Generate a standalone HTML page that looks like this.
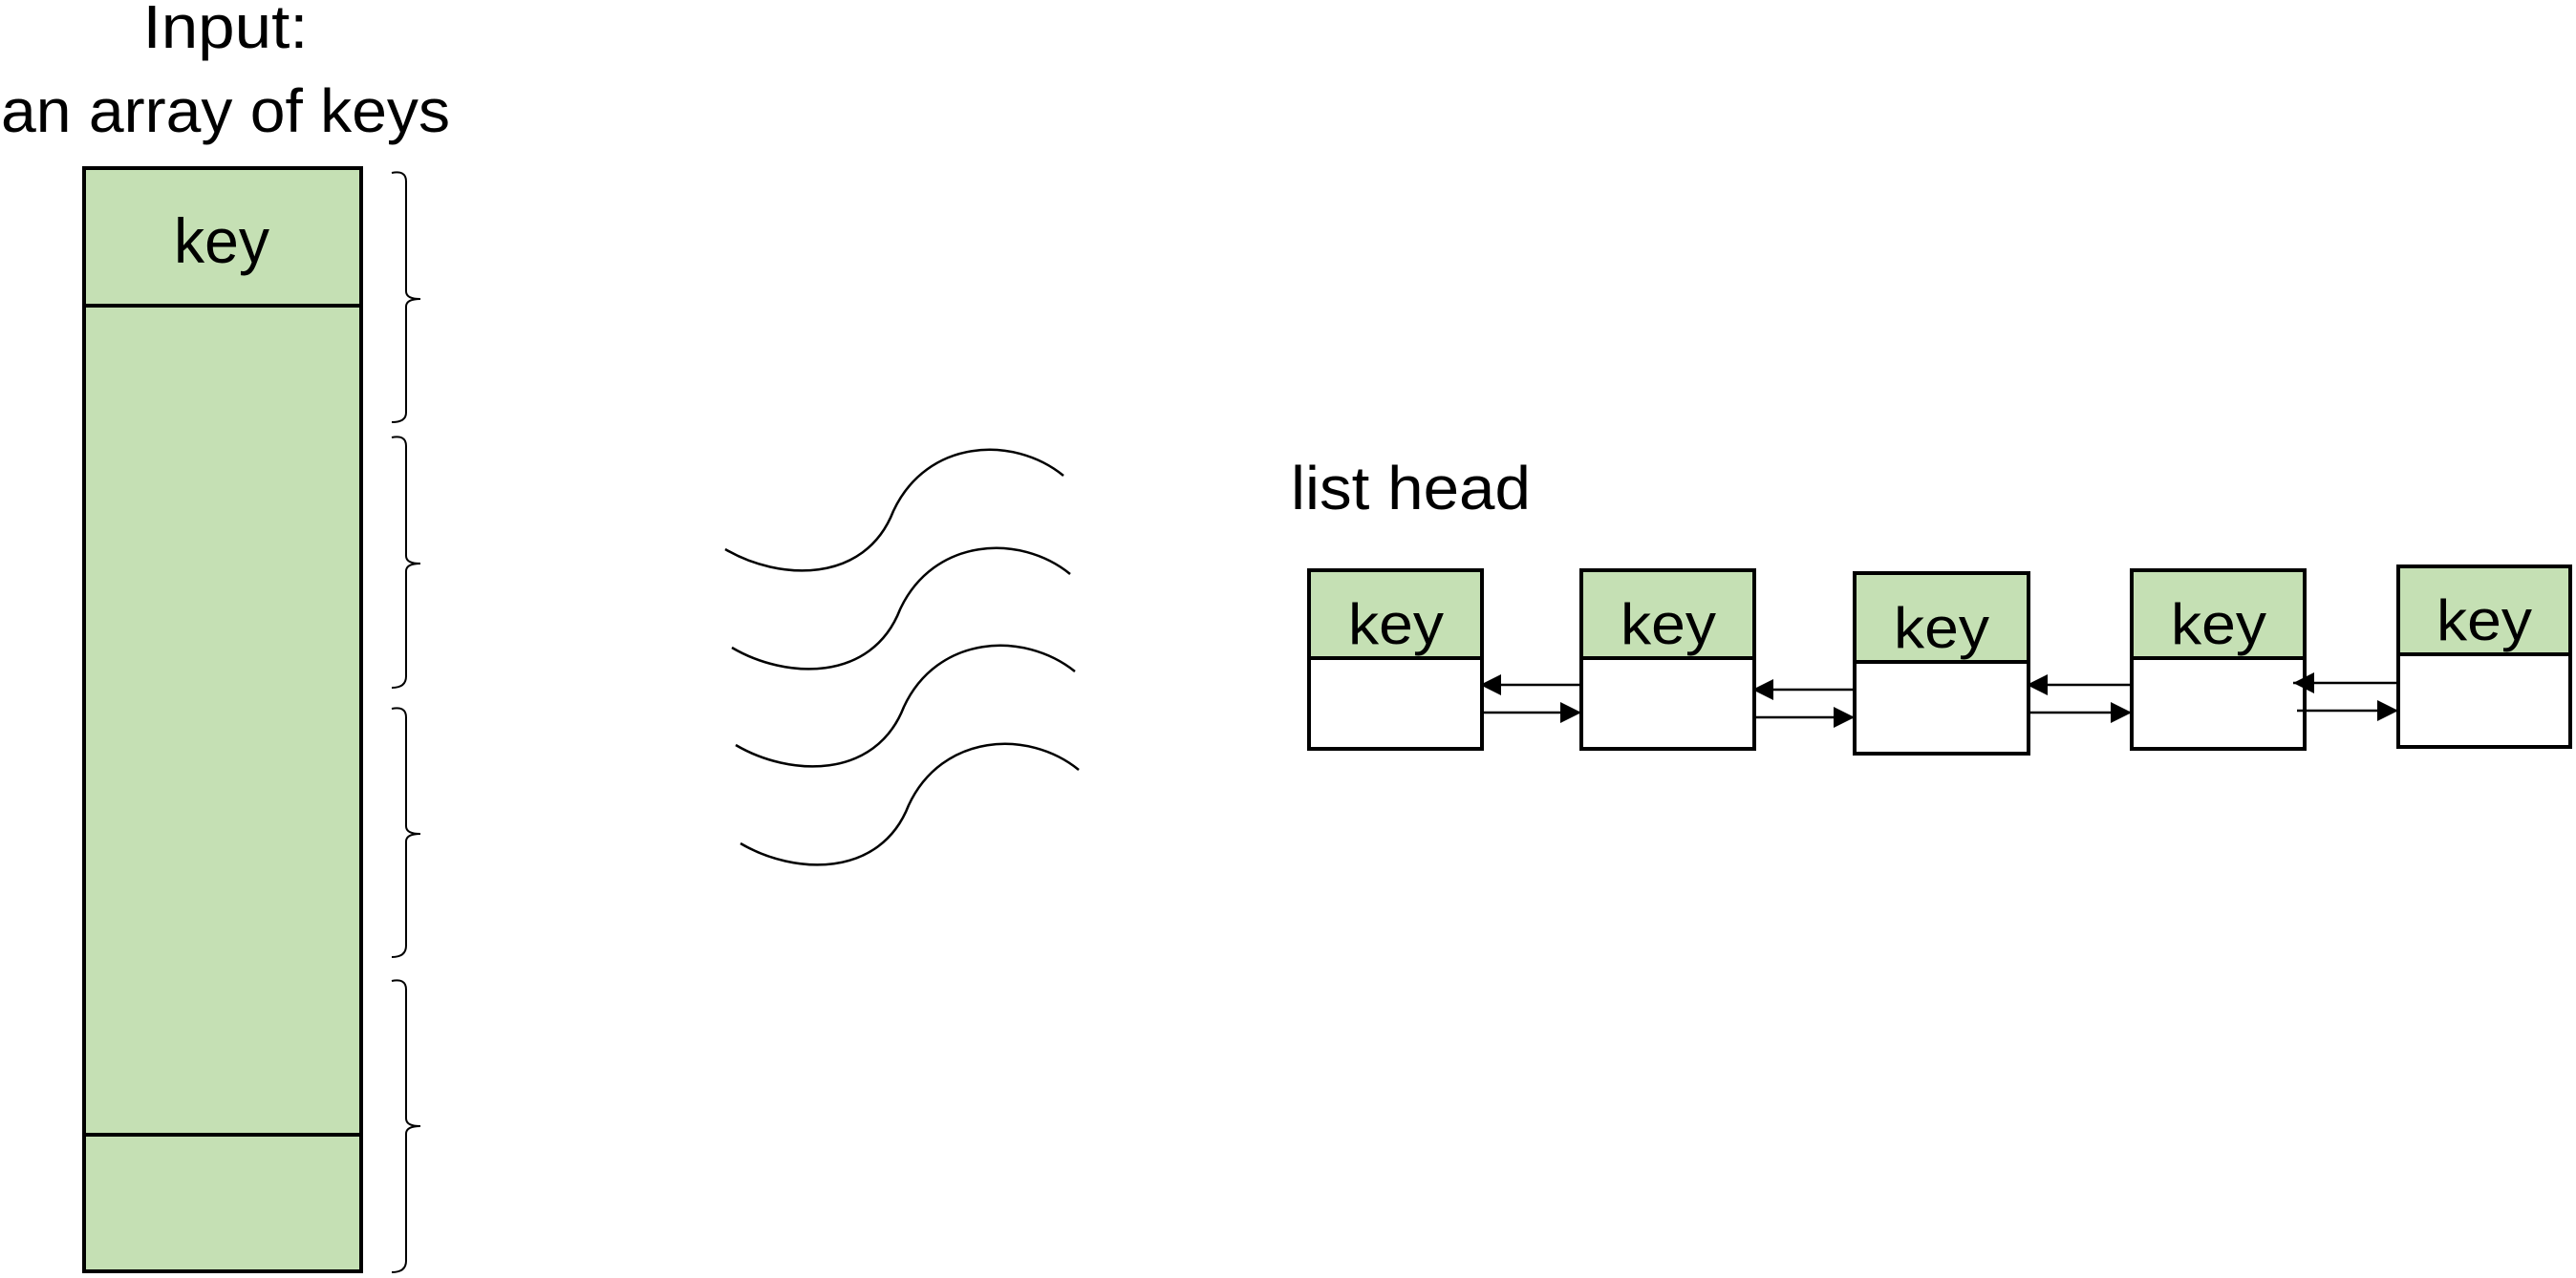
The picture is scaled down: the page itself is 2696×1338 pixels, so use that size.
<!DOCTYPE html>
<html><head><meta charset="utf-8"><style>html,body{margin:0;padding:0;background:#fff}svg{display:block}</style></head>
<body>
<svg width="2696" height="1338" viewBox="0 0 2696 1338" xmlns="http://www.w3.org/2000/svg" font-family="Liberation Sans, sans-serif">
<defs>
<marker id="ah" viewBox="0 0 10 10" refX="10" refY="5" markerWidth="8" markerHeight="8" markerUnits="userSpaceOnUse" orient="auto">
<path d="M0,0 L10,5 L0,10 z" fill="#000"/></marker>
<marker id="a" viewBox="0 0 10 10" refX="10" refY="5" markerWidth="22" markerHeight="22" markerUnits="userSpaceOnUse" orient="auto">
<path d="M0,0 L10,5 L0,10 z" fill="#000"/></marker>
</defs>
<text x="236" y="50" font-size="64" text-anchor="middle" textLength="173" lengthAdjust="spacingAndGlyphs">Input:</text>
<text x="236" y="138" font-size="64" text-anchor="middle" textLength="470" lengthAdjust="spacingAndGlyphs">an array of keys</text>
<rect x="88" y="176" width="290" height="1155" fill="#c5e0b4" stroke="#000" stroke-width="4"/>
<line x1="88" y1="320" x2="378" y2="320" stroke="#000" stroke-width="4"/>
<line x1="88" y1="1188" x2="378" y2="1188" stroke="#000" stroke-width="4"/>
<text x="232" y="275" font-size="66" text-anchor="middle" textLength="100" lengthAdjust="spacingAndGlyphs">key</text>
<g fill="none" stroke="#000" stroke-width="2">
<path d="M410,181 Q425,178 425,190 L425,305 Q425,313 440,313 Q425,313 425,321 L425,432 Q425,442 410,442"/>
<path d="M410,458 Q425,455 425,467 L425,582 Q425,590 440,590 Q425,590 425,598 L425,708 Q425,720 410,720"/>
<path d="M410,742 Q425,739 425,751 L425,865 Q425,873 440,873 Q425,873 425,881 L425,990 Q425,1002 410,1002"/>
<path d="M410,1027 Q425,1024 425,1036 L425,1171 Q425,1179 440,1179 Q425,1179 425,1187 L425,1320 Q425,1332 410,1332"/>
</g>
<g fill="none" stroke="#000" stroke-width="2.5">
<path d="M759,575 C815,608 905,612 935,535 C970,460 1060,455 1113,498"/>
<path d="M766,678 C822,711 912,715 942,638 C977,563 1067,558 1120,601"/>
<path d="M770,780 C826,813 916,817 946,740 C981,665 1071,660 1125,703"/>
<path d="M775,883 C831,916 921,920 951,843 C986,768 1076,763 1129,806"/>
</g>
<text x="1351" y="533" font-size="64" textLength="251" lengthAdjust="spacingAndGlyphs">list head</text>
<g stroke="#000" stroke-width="4">
<rect x="1370" y="597" width="181" height="187" fill="#fff"/><rect x="1370" y="597" width="181" height="92" fill="#c5e0b4"/>
<rect x="1655" y="597" width="181" height="187" fill="#fff"/><rect x="1655" y="597" width="181" height="92" fill="#c5e0b4"/>
<rect x="1941" y="600" width="182" height="189" fill="#fff"/><rect x="1941" y="600" width="182" height="93" fill="#c5e0b4"/>
<rect x="2231" y="597" width="181" height="187" fill="#fff"/><rect x="2231" y="597" width="181" height="92" fill="#c5e0b4"/>
<rect x="2510" y="593" width="180" height="189" fill="#fff"/><rect x="2510" y="593" width="180" height="92" fill="#c5e0b4"/>
</g>
<g font-size="60" text-anchor="middle">
<text x="1461" y="674" textLength="100" lengthAdjust="spacingAndGlyphs">key</text>
<text x="1746" y="674" textLength="100" lengthAdjust="spacingAndGlyphs">key</text>
<text x="2032" y="678" textLength="100" lengthAdjust="spacingAndGlyphs">key</text>
<text x="2322" y="674" textLength="100" lengthAdjust="spacingAndGlyphs">key</text>
<text x="2600" y="670" textLength="100" lengthAdjust="spacingAndGlyphs">key</text>
</g>
<g stroke="#000" stroke-width="2.5" marker-end="url(#a)">
<line x1="1655" y1="717" x2="1549" y2="717"/><line x1="1553" y1="746" x2="1655" y2="746"/>
<line x1="1941" y1="722" x2="1834" y2="722"/><line x1="1838" y1="751" x2="1941" y2="751"/>
<line x1="2231" y1="717" x2="2121" y2="717"/><line x1="2125" y1="746" x2="2231" y2="746"/>
<line x1="2510" y1="715" x2="2400" y2="715"/><line x1="2404" y1="744" x2="2510" y2="744"/>
</g>
</svg>
</body></html>
